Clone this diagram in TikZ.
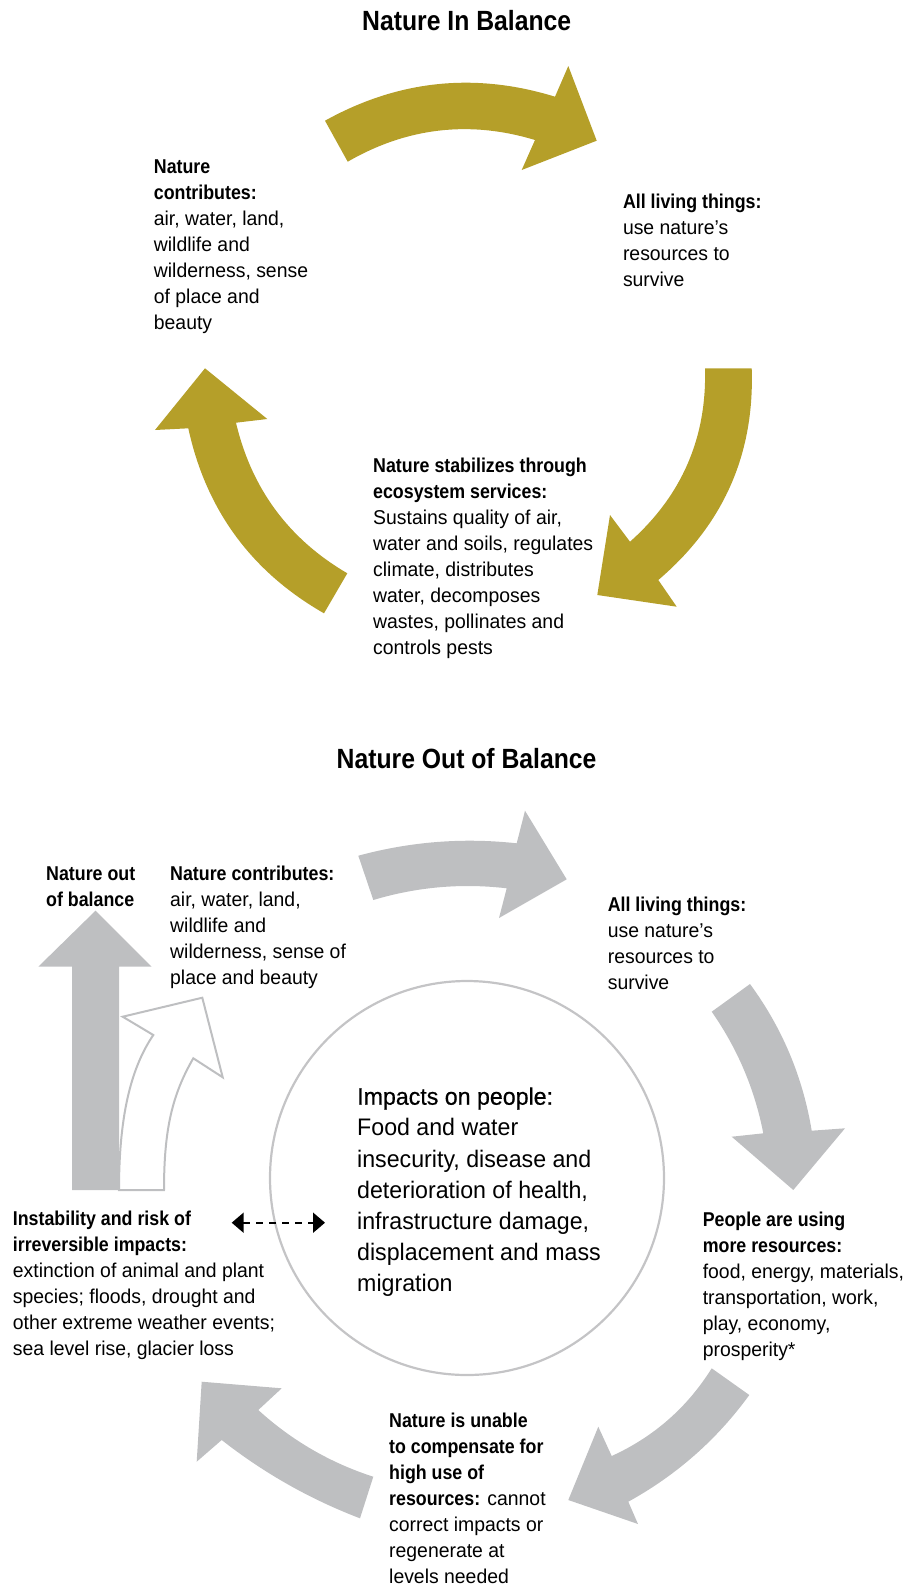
\documentclass[tikz,border=0pt]{standalone}
\usepackage{fontspec}
\setmainfont{Liberation Sans}[FakeStretch=0.97]
\newfontfamily\bfam{Liberation Sans}[FakeStretch=0.89]
\newfontfamily\mfam{Liberation Sans}[FakeStretch=0.97,FakeBold=0.6]
\usetikzlibrary{arrows.meta}
\definecolor{olv}{RGB}{181,159,41}
\definecolor{gry}{RGB}{190,191,193}
\definecolor{cgry}{RGB}{196,196,198}
\newcommand\strA{\rule{0pt}{15pt}}
\newcommand\strB{\rule{0pt}{17.5pt}}
\newcommand\strC{\rule{0pt}{21pt}}
\newcommand\hb[1]{{\bfam\bfseries #1}}
\begin{document}
\begin{tikzpicture}[x=1pt,y=-1pt,
  txt/.style={anchor=north west,align=left,inner sep=0pt,font=\fontsize{20}{26}\selectfont},
  ctr/.style={anchor=north west,align=left,inner sep=0pt,font=\fontsize{23.9}{31.2}\selectfont},
  ttl/.style={anchor=north,inner sep=0pt,font=\fontsize{27.8}{33}\selectfont\bfam\bfseries},
  olvarrow/.style={fill=olv},
  gryarrow/.style={fill=gry},
  outlinearrow/.style={draw=gry,fill=white,line width=2pt,line join=miter},
  ring/.style={draw=cgry,line width=2.2pt},
  dashlink/.style={line width=2pt,dash pattern=on 7pt off 6pt,{Triangle[length=12pt,width=20pt]}-{Triangle[length=12pt,width=20pt]}}
]
\useasboundingbox (0,0) rectangle (904,1585);

% ---------- Nature In Balance ----------
\fill[olvarrow] (325,120.7) .. controls (398.3,80) and (474.9,72) .. (555,96.7) -- (568.3,66) -- (596.7,140.7) -- (521.7,170) -- (535,140) .. controls (469.5,120.2) and (407,127.5) .. (347.7,161.7) -- cycle;
\fill[olvarrow] (705,368.3) -- (751.7,368.3) .. controls (754.7,454) and (723.5,524.5) .. (658.3,580) -- (676.7,606.7) -- (597.3,595) -- (610,515) -- (630,541.7) .. controls (681.9,495.5) and (706.9,437.7) .. (705,368.3) -- cycle;
\fill[olvarrow] (324,613.3) -- (347.3,573.3) .. controls (288.7,539) and (251.6,488.8) .. (236,422.7) -- (267.3,419) -- (205,368.3) -- (155,430) -- (188.3,428.3) .. controls (206.1,510.1) and (251.4,571.7) .. (324,613.3) -- cycle;

\node[ttl] (ttlA) at (466.7,9.5) {\strC Nature In Balance};
\node[txt] (contribA) at (153.7,158.4) {\strA\hb{Nature}\\\hb{contributes:}\\air, water, land,\\wildlife and\\wilderness, sense\\of place and\\beauty};
\node[txt] (livingA) at (622.8,192.8) {\strA\hb{All living things:}\\use nature’s\\resources to\\survive};
\node[txt] (stabA) at (373,457.6) {\strA\hb{Nature stabilizes through}\\\hb{ecosystem services:}\\Sustains quality of air,\\water and soils, regulates\\climate, distributes\\water, decomposes\\wastes, pollinates and\\controls pests};

% ---------- Nature Out of Balance ----------
\fill[gryarrow] (72,1190) -- (72,966.7) -- (38.3,966.7) -- (95.5,910.7) -- (151.7,966.7) -- (119,966.7) -- (119,1190) -- cycle;
\filldraw[outlinearrow] (119,1190) .. controls (119,1110) and (133,1065) .. (153.3,1035) -- (122.7,1016.7) -- (202.3,997.7) -- (222.7,1077.3) -- (193.3,1058.3) .. controls (172,1095) and (164,1130) .. (164,1190) -- cycle;

\fill[gryarrow] (358.3,855.7) .. controls (410.3,841.6) and (463.1,837.4) .. (516.7,843.3) -- (525,810.7) -- (566.7,879.3) -- (499,918) -- (506.7,888.3) .. controls (461.4,883) and (417,886.9) .. (373.3,900) -- cycle;
\fill[gryarrow] (711.7,1011.7) -- (750,984) .. controls (782.3,1028) and (802.8,1076.9) .. (811.7,1130.7) -- (845,1128.3) -- (793.3,1190) -- (731.7,1136.7) -- (763.3,1133.3) .. controls (754.7,1089.2) and (737.5,1048.6) .. (711.7,1011.7) -- cycle;
\fill[gryarrow] (711.7,1368.3) -- (749.3,1395) .. controls (716.9,1439.6) and (676.5,1475.1) .. (628.3,1501.7) -- (638,1524) -- (568.3,1500) -- (598.3,1426.7) -- (611.7,1456) .. controls (653.8,1436.8) and (687.2,1407.5) .. (711.7,1368.3) -- cycle;
\fill[gryarrow] (373.3,1476.7) -- (360,1518.3) .. controls (310,1499.2) and (263.9,1473.1) .. (221.7,1440) -- (196.7,1461.7) -- (201.7,1381.7) -- (281.7,1388.3) -- (258.3,1410) .. controls (291.8,1440.5) and (330.2,1462.8) .. (373.3,1476.7) -- cycle;

\draw[ring] (467,1178) circle[radius=197pt];

\coordinate (dl) at (231.7,1222.7);
\coordinate (dr) at (325,1222.7);
\draw[dashlink] (dl) -- (dr);

\node[ttl] (ttlB) at (466.6,747) {\strC Nature Out of Balance};
\node[txt] (outbal) at (46,865) {\strA\hb{Nature out}\\\hb{of balance}};
\node[txt] (contribB) at (170,865) {\strA\hb{Nature contributes:}\\air, water, land,\\wildlife and\\wilderness, sense of\\place and beauty};
\node[txt] (livingB) at (607.6,896.4) {\strA\hb{All living things:}\\use nature’s\\resources to\\survive};
\node[ctr] (impacts) at (357,1087) {\strB{\mfam Impacts on people:}\\Food and water\\insecurity, disease and\\deterioration of health,\\infrastructure damage,\\displacement and mass\\migration};
\node[txt] (instab) at (12.7,1210) {\strA\hb{Instability and risk of}\\\hb{irreversible impacts:}\\extinction of animal and plant\\species; floods, drought and\\other extreme weather events;\\sea level rise, glacier loss};
\node[txt] (people) at (702.6,1210.8) {\strA\hb{People are using}\\\hb{more resources:}\\food, energy, materials,\\transportation, work,\\play, economy,\\prosperity*};
\node[txt] (unable) at (389,1412.7) {\strA\hb{Nature is unable}\\\hb{to compensate for}\\\hb{high use of}\\\hb{resources:} cannot\\correct impacts or\\regenerate at\\levels needed};
\end{tikzpicture}
\end{document}
